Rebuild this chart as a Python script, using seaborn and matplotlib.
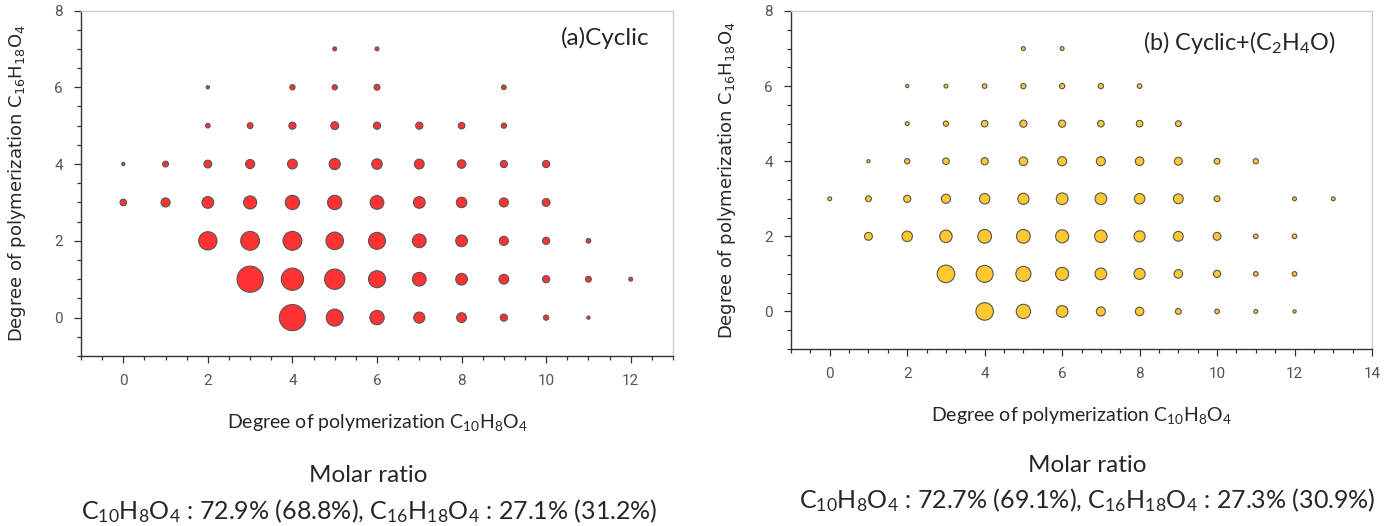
import matplotlib
matplotlib.use("Agg")
import matplotlib.pyplot as plt
from matplotlib.ticker import MultipleLocator
import seaborn as sns
import pandas as pd

# (a) Cyclic : degree of polymerization C10H8O4 (x), C16H18O4 (y), relative abundance
cyc_x = [4, 5, 6, 7, 8, 9, 10, 11,
         3, 4, 5, 6, 7, 8, 9, 10, 11, 12,
         2, 3, 4, 5, 6, 7, 8, 9, 10, 11,
         0, 1, 2, 3, 4, 5, 6, 7, 8, 9, 10,
         0, 1, 2, 3, 4, 5, 6, 7, 8, 9, 10,
         2, 3, 4, 5, 6, 7, 8, 9,
         2, 4, 5, 6, 9,
         5, 6]
cyc_y = [0] * 8 + [1] * 10 + [2] * 10 + [3] * 11 + [4] * 11 + [5] * 8 + [6] * 5 + [7] * 2
cyc_abund = [100, 42, 30, 18, 14, 7.5, 4, 1.5,
             100, 72, 60, 42, 27.5, 20, 14, 7.5, 5, 2.2,
             49, 52, 52, 45, 42, 27.5, 20, 12, 7.5, 3.1,
             6.3, 12, 20, 25, 30, 30, 27.5, 20, 16, 12, 9,
             1.5, 5, 9, 12, 14, 18, 16, 14, 10.6, 7.5, 7.5,
             3.1, 5, 7.5, 9, 7.5, 7.5, 6.3, 4,
             1.5, 4, 4, 5, 3.1,
             2.2, 2.2]

# (b) Cyclic+(C2H4O)
eo_x = [4, 5, 6, 7, 8, 9, 10, 11, 12,
        3, 4, 5, 6, 7, 8, 9, 10, 11, 12,
        1, 2, 3, 4, 5, 6, 7, 8, 9, 10, 11, 12,
        0, 1, 2, 3, 4, 5, 6, 7, 8, 9, 10, 12, 13,
        1, 2, 3, 4, 5, 6, 7, 8, 9, 10, 11,
        2, 3, 4, 5, 6, 7, 8, 9,
        2, 3, 4, 5, 6, 7, 8,
        5, 6]
eo_y = [0] * 9 + [1] * 10 + [2] * 12 + [3] * 13 + [4] * 11 + [5] * 8 + [6] * 7 + [7] * 2
eo_abund = [45, 30, 20, 12, 10.6, 5, 3.1, 2.2, 1.5,
            45, 42, 33, 25, 20, 18, 10.6, 7.5, 3.1, 3.1,
            9, 16, 22.6, 27.5, 27.5, 25, 22.6, 18, 14, 9, 3.1, 3.1,
            2.2, 5, 7.5, 12, 16, 18, 20, 20, 16, 14, 5, 2.2, 2.2,
            1.5, 4, 6.3, 7.5, 10.6, 12, 12, 10.6, 9, 5, 4,
            2.2, 4, 6.3, 7.5, 7.5, 6.3, 6.3, 5,
            1.5, 2.2, 3.1, 4, 4, 4, 3.1,
            2.2, 2.2]

W, H = 1390, 526

sns.set_style("white")
plt.rcParams["font.family"] = ["DejaVu Sans"]
plt.rcParams["mathtext.fontset"] = "custom"
plt.rcParams["mathtext.rm"] = "Lato"
plt.rcParams["mathtext.default"] = "regular"

fig = plt.figure(figsize=(W / 100, H / 100), dpi=100)
ax1 = fig.add_axes([81 / W, 1 - 356 / H, 592 / W, 345.5 / H])
ax2 = fig.add_axes([791 / W, 1 - 349 / H, 581 / W, 338 / H])

panels = [
    (ax1, cyc_x, cyc_y, cyc_abund, "#ff3333", 13, "(a)Cyclic", 17.5, 0.81, 0.92),
    (ax2, eo_x, eo_y, eo_abund, "#ffc82e", 14, "(b) Cyclic+(C$_2$H$_4$O)", 16.8, 0.606, 0.908),
]

tick_font = ["Liberation Sans Narrow", "Roboto"]

for ax, xs, ys, ab, col, xmax, title, tsize, tx, ty in panels:
    df = pd.DataFrame({"c10": xs, "c16": ys, "abund": ab})
    sns.scatterplot(data=df, x="c10", y="c16", size="abund", sizes=(0, 355),
                    size_norm=(0, 100), legend=False, color=col,
                    edgecolor="#555555", linewidth=0.8, ax=ax, zorder=3)
    ax.set_xlim(-1, xmax)
    ax.set_ylim(-1, 8)
    ax.xaxis.set_major_locator(MultipleLocator(2))
    ax.xaxis.set_minor_locator(MultipleLocator(0.5))
    ax.yaxis.set_major_locator(MultipleLocator(2))
    ax.yaxis.set_minor_locator(MultipleLocator(0.5))
    ax.tick_params(which="major", direction="out", length=5, width=0.9,
                   color="#333333", labelsize=11, labelcolor="#555555", pad=8)
    ax.tick_params(which="minor", direction="out", length=3, width=0.9, color="#333333")
    ax.tick_params(bottom=True, left=True, which="both")
    for lab in ax.get_xticklabels() + ax.get_yticklabels():
        lab.set_family(tick_font)
    for s in ["left", "bottom"]:
        ax.spines[s].set_color("#333333")
        ax.spines[s].set_linewidth(1.0)
    for s in ["top", "right"]:
        ax.spines[s].set_color("#cccccc")
        ax.spines[s].set_linewidth(1.0)
    ax.set_xlabel("Degree of polymerization C$_{10}$H$_8$O$_4$",
                  family="Lato", fontsize=14, labelpad=17)
    ax.set_ylabel("Degree of polymerization C$_{16}$H$_{18}$O$_4$",
                  family="DejaVu Sans", fontsize=13, labelpad=19)
    ax.text(tx, ty, title, transform=ax.transAxes, family="Lato",
            fontsize=tsize, ha="left", va="center")

# molar ratio notes under each panel
fig.text(368 / W, 1 - 475 / H, "Molar ratio", family="Lato", fontsize=17.5,
         ha="center", va="center")
fig.text(369 / W, 1 - 511 / H,
         "C$_{10}$H$_8$O$_4$ : 72.9% (68.8%), C$_{16}$H$_{18}$O$_4$ : 27.1% (31.2%)",
         family="Lato", fontsize=18, ha="center", va="center")
fig.text(1087 / W, 1 - 466 / H, "Molar ratio", family="Lato", fontsize=17.5,
         ha="center", va="center")
fig.text(1087 / W, 1 - 500 / H,
         "C$_{10}$H$_8$O$_4$ : 72.7% (69.1%), C$_{16}$H$_{18}$O$_4$ : 27.3% (30.9%)",
         family="Lato", fontsize=18, ha="center", va="center")

fig.savefig("out.png", dpi=100)
